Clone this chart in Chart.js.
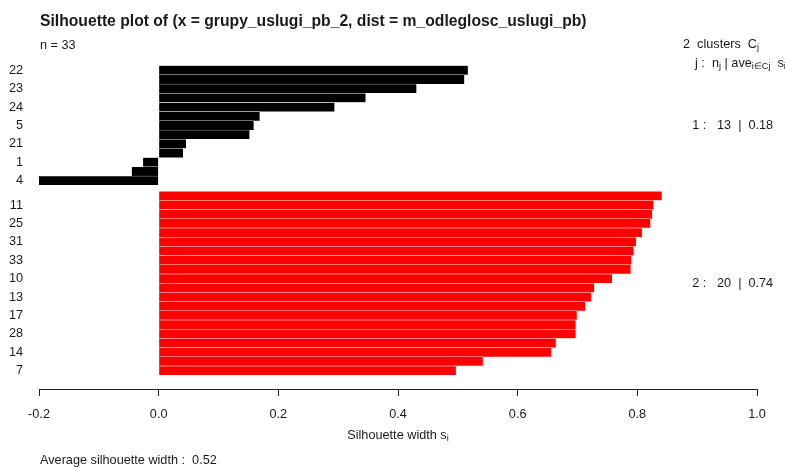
<!DOCTYPE html>
<html>
<head>
<meta charset="utf-8">
<script src="https://cdn.jsdelivr.net/npm/chart.js@4.4.1/dist/chart.umd.min.js"></script>
<style>
  body { margin: 0; background: #fff; }
  canvas { display: block; }
</style>
</head>
<body>
<canvas id="sil" width="785" height="467"></canvas>
<script>
// silhouette widths, sorted within each cluster
const cluster1Values = [0.517, 0.511, 0.431, 0.346, 0.294, 0.169, 0.159, 0.152, 0.046, 0.041, -0.026, -0.045, -0.200];
const cluster2Values = [0.841, 0.827, 0.825, 0.822, 0.808, 0.798, 0.794, 0.790, 0.789, 0.758, 0.728, 0.723, 0.713, 0.699, 0.697, 0.697, 0.664, 0.656, 0.542, 0.497];
// observation names, R only prints every other one (the rest overlap)
const cluster1Names = ['22', '', '23', '', '24', '', '5', '', '21', '', '1', '', '4'];
const cluster2Names = ['', '11', '', '25', '', '31', '', '33', '', '10', '', '13', '', '17', '', '28', '', '14', '', '7'];
const clusterAverages = ['0.18', '0.74'];
const averageWidth = '0.52';
const xTicks = [-0.2, 0.0, 0.2, 0.4, 0.6, 0.8, 1.0];

const FONT = '"Liberation Sans", Arial, sans-serif';
const TEXT = '#1a1a1a';
const clusterGap = 0.65; // space between the two clusters, in bar heights

const pos1 = cluster1Values.map((v, i) => i);
const pos2 = cluster2Values.map((v, i) => cluster1Values.length + clusterGap + i);

const yTicks = [];
cluster1Names.forEach((name, i) => { if (name) yTicks.push({ value: pos1[i], label: name }); });
cluster2Names.forEach((name, i) => { if (name) yTicks.push({ value: pos2[i], label: name }); });

// draws a run of text where some pieces are subscripts
function richWidth(ctx, parts, size) {
  let w = 0;
  parts.forEach(p => {
    ctx.font = (p.sub ? size * 0.72 : size) + 'px ' + FONT;
    w += ctx.measureText(p.t).width;
  });
  return w;
}
function drawRich(ctx, parts, x, y, size) {
  parts.forEach(p => {
    ctx.font = (p.sub ? size * 0.72 : size) + 'px ' + FONT;
    ctx.fillText(p.t, x, p.sub ? y + size * 0.3 : y);
    x += ctx.measureText(p.t).width;
  });
}

const rText = {
  id: 'rText',
  afterDraw(chart) {
    const ctx = chart.ctx;
    const area = chart.chartArea;
    const y = chart.scales.y;
    const x = chart.scales.x;
    const n = cluster1Values.length + cluster2Values.length;
    ctx.save();
    ctx.fillStyle = TEXT;
    ctx.textBaseline = 'middle';
    ctx.textAlign = 'left';

    ctx.font = 'bold 15.7px ' + FONT;
    ctx.fillText('Silhouette plot of (x = grupy_uslugi_pb_2, dist = m_odleglosc_uslugi_pb)', 40, 22);

    ctx.font = '12.7px ' + FONT;
    ctx.fillText('n = ' + n, 40, 45);

    drawRich(ctx, [{ t: '2  clusters  C' }, { t: 'j', sub: true }], 683, 44, 12.7);
    drawRich(ctx, [{ t: 'j :  n' }, { t: 'j', sub: true }, { t: ' | ave' }, { t: 'i\u2208Cj', sub: true }, { t: '  s' }, { t: 'i', sub: true }], 695, 63, 12.7);

    // per-cluster summary, centred on each block of bars (R: text at x = 1, adj = 0.8)
    ctx.font = '12.7px ' + FONT;
    const mids = [
      y.getPixelForValue((pos1[0] + pos1[pos1.length - 1]) / 2),
      y.getPixelForValue((pos2[0] + pos2[pos2.length - 1]) / 2)
    ];
    const sizes = [cluster1Values.length, cluster2Values.length];
    mids.forEach((py, j) => {
      const s = (j + 1) + ' :   ' + sizes[j] + '  |  ' + clusterAverages[j];
      const tw = ctx.measureText(s).width;
      ctx.fillText(s, x.getPixelForValue(1) - 0.8 * tw, py);
    });

    // x axis title with subscript
    const xt = [{ t: 'Silhouette width s' }, { t: 'i', sub: true }];
    const w = richWidth(ctx, xt, 12.7);
    drawRich(ctx, xt, (area.left + area.right) / 2 - w / 2, 435, 12.7);

    ctx.font = '12.7px ' + FONT;
    ctx.fillText('Average silhouette width :  ' + averageWidth, 40, 460);
    ctx.restore();
  }
};

new Chart(document.getElementById('sil'), {
  type: 'bar',
  data: {
    datasets: [
      {
        label: 'Cluster 1',
        data: cluster1Values.map((v, i) => ({ x: v, y: pos1[i] })),
        backgroundColor: '#000000'
      },
      {
        label: 'Cluster 2',
        data: cluster2Values.map((v, i) => ({ x: v, y: pos2[i] })),
        backgroundColor: '#ff0000'
      }
    ]
  },
  options: {
    indexAxis: 'y',
    responsive: false,
    animation: false,
    grouped: false,
    barPercentage: 1,
    categoryPercentage: 1,
    borderWidth: { top: 0.5, bottom: 0.5, right: 0.5, left: 0 },
    borderColor: '#ffffff',
    layout: { padding: { top: 40, right: 28, left: 0, bottom: 0 } },
    plugins: {
      legend: { display: false },
      tooltip: { enabled: false }
    },
    scales: {
      x: {
        type: 'linear',
        min: -0.2,
        max: 1.0,
        offset: false,
        afterBuildTicks: s => { s.ticks = xTicks.map(v => ({ value: v })); },
        afterFit: s => { s.height = 78; },
        grid: { drawOnChartArea: false, drawTicks: true, tickLength: 7, color: '#222' },
        border: { display: true, color: '#222' },
        ticks: {
          padding: 11,
          color: TEXT,
          font: { family: FONT, size: 12.7 },
          callback: v => v.toFixed(1)
        }
      },
      y: {
        type: 'linear',
        reverse: true,
        offset: false,
        bounds: 'data',
        min: -3.29,
        max: 34.65,
        afterBuildTicks: s => { s.ticks = yTicks.map(t => ({ value: t.value })); },
        afterFit: s => { s.width = 39; },
        grid: { display: false, drawTicks: false, offset: false },
        border: { display: false },
        ticks: {
          autoSkip: false,
          padding: 16,
          color: TEXT,
          font: { family: FONT, size: 12.7 },
          callback: (v, i) => (yTicks[i] ? yTicks[i].label : '')
        }
      }
    }
  },
  plugins: [rText]
});
</script>
</body>
</html>
